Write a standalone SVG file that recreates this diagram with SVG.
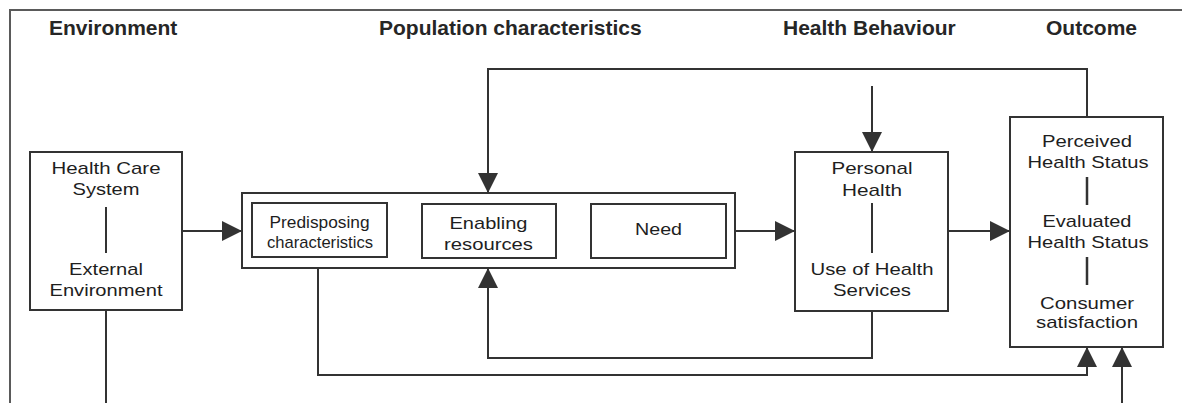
<svg xmlns="http://www.w3.org/2000/svg" width="1182" height="403" viewBox="0 0 1182 403">
  <style>
    .frame { fill: none; stroke: #5a5a5a; stroke-width: 2; }
    .box { fill: #ffffff; stroke: #333333; stroke-width: 2; }
    .link { fill: none; stroke: #333333; stroke-width: 2; }
    .div { stroke: #333333; stroke-width: 2; }
    .div3 { stroke: #333333; stroke-width: 2.5; }
    .head { font-family: "Liberation Sans", Arial, sans-serif; font-weight: bold; font-size: 21px; fill: #262626; }
    .lbl { font-family: "Liberation Sans", Arial, sans-serif; font-size: 17px; fill: #1e1e1e; text-anchor: middle; }
  </style>
  <defs>
    <marker id="arrow" markerUnits="userSpaceOnUse" markerWidth="20" markerHeight="20" refX="20" refY="10" orient="auto">
      <path d="M0,0 L20,10 L0,20 Z" fill="#333333"/>
    </marker>
  </defs>

  <rect x="0" y="0" width="1182" height="403" fill="#ffffff"/>

  <!-- outer frame (top and left edges) -->
  <path class="frame" d="M10,403 V10 H1182"/>

  <!-- column headings -->
  <g id="headings">
    <text class="head" x="49" y="35">Environment</text>
    <text class="head" x="379" y="35">Population characteristics</text>
    <text class="head" x="783" y="35">Health Behaviour</text>
    <text class="head" x="1046" y="35">Outcome</text>
  </g>

  <!-- connectors -->
  <g id="connectors">
    <path class="link" d="M182,231 H242" marker-end="url(#arrow)"/>
    <path class="link" d="M387,231 H422" marker-end="url(#arrow)"/>
    <path class="link" d="M556,231 H591" marker-end="url(#arrow)"/>
    <path class="link" d="M735,231 H795" marker-end="url(#arrow)"/>
    <path class="link" d="M948,231 H1010" marker-end="url(#arrow)"/>
    <path class="link" d="M1087,117 V69 H488 V193" marker-end="url(#arrow)"/>
    <path class="link" d="M872,86 V152" marker-end="url(#arrow)"/>
    <path class="link" d="M872,311 V358 H488 V268" marker-end="url(#arrow)"/>
    <path class="link" d="M318,268 V375 H1087 V347" marker-end="url(#arrow)"/>
    <path class="link" d="M106,310 V403 M1122,403 V347" marker-end="url(#arrow)"/>
  </g>

  <!-- environment -->
  <g id="environment">
    <rect class="box" x="30" y="152" width="152" height="158"/>
    <text class="lbl" x="106" y="174" textLength="109" lengthAdjust="spacingAndGlyphs">Health Care</text>
    <text class="lbl" x="106" y="195" textLength="67" lengthAdjust="spacingAndGlyphs">System</text>
    <line class="div" x1="106" y1="207" x2="106" y2="253"/>
    <text class="lbl" x="106" y="275" textLength="74" lengthAdjust="spacingAndGlyphs">External</text>
    <text class="lbl" x="106" y="296" textLength="113" lengthAdjust="spacingAndGlyphs">Environment</text>
  </g>

  <!-- population characteristics -->
  <g id="population">
    <rect class="box" x="242" y="193" width="493" height="75"/>
  </g>

  <g id="predisposing">
    <rect class="box" x="252" y="203" width="135" height="54"/>
    <text class="lbl" x="319.5" y="228" textLength="100" lengthAdjust="spacingAndGlyphs">Predisposing</text>
    <text class="lbl" x="320" y="248" textLength="106" lengthAdjust="spacingAndGlyphs">characteristics</text>
  </g>

  <g id="enabling">
    <rect class="box" x="422" y="204" width="134" height="54"/>
    <text class="lbl" x="488.5" y="228.5" textLength="78" lengthAdjust="spacingAndGlyphs">Enabling</text>
    <text class="lbl" x="488.5" y="249.5" textLength="89" lengthAdjust="spacingAndGlyphs">resources</text>
  </g>

  <g id="need">
    <rect class="box" x="591" y="204" width="135" height="54"/>
    <text class="lbl" x="658.5" y="235" textLength="47" lengthAdjust="spacingAndGlyphs">Need</text>
  </g>

  <!-- health behaviour -->
  <g id="behaviour">
    <rect class="box" x="795" y="152" width="153" height="159"/>
    <text class="lbl" x="872" y="174" textLength="81" lengthAdjust="spacingAndGlyphs">Personal</text>
    <text class="lbl" x="872" y="196" textLength="60" lengthAdjust="spacingAndGlyphs">Health</text>
    <line class="div" x1="872" y1="203" x2="872" y2="253"/>
    <text class="lbl" x="872" y="275" textLength="123" lengthAdjust="spacingAndGlyphs">Use of Health</text>
    <text class="lbl" x="872" y="296" textLength="78" lengthAdjust="spacingAndGlyphs">Services</text>
  </g>

  <!-- outcome -->
  <g id="outcome">
    <rect class="box" x="1010" y="117" width="153" height="230"/>
    <text class="lbl" x="1087" y="147" textLength="90" lengthAdjust="spacingAndGlyphs">Perceived</text>
    <text class="lbl" x="1088" y="168" textLength="121" lengthAdjust="spacingAndGlyphs">Health Status</text>
    <line class="div3" x1="1087" y1="177" x2="1087" y2="205"/>
    <text class="lbl" x="1087" y="227" textLength="89" lengthAdjust="spacingAndGlyphs">Evaluated</text>
    <text class="lbl" x="1088" y="248" textLength="121" lengthAdjust="spacingAndGlyphs">Health Status</text>
    <line class="div3" x1="1087" y1="257" x2="1087" y2="285"/>
    <text class="lbl" x="1087" y="309" textLength="94" lengthAdjust="spacingAndGlyphs">Consumer</text>
    <text class="lbl" x="1087" y="328" textLength="102" lengthAdjust="spacingAndGlyphs">satisfaction</text>
  </g>
</svg>
